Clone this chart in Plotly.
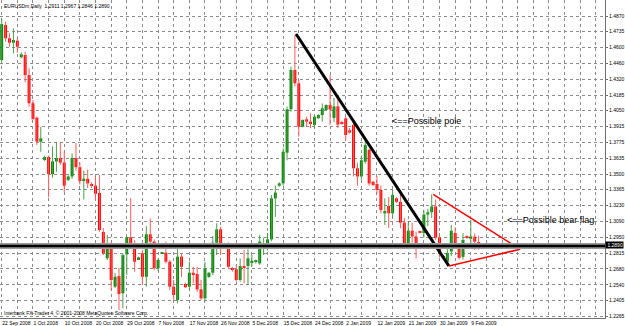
import plotly.graph_objects as go

# ---------------- data ----------------
bar_index = list(range(123))
opens = [1.4489, 1.4792, 1.4677, 1.4639, 1.4656, 1.4512, 1.4532, 1.4359, 1.4114, 1.3989,
         1.3781, 1.3622, 1.3648, 1.3500, 1.3610, 1.3640, 1.3600, 1.3450, 1.3480, 1.3640,
         1.3560, 1.3440, 1.3460, 1.3410, 1.3400, 1.3337, 1.2999, 1.2771, 1.2901, 1.2525,
         1.2617, 1.2468, 1.2805, 1.2953, 1.2878, 1.2762, 1.2814, 1.2611, 1.2979, 1.2915,
         1.2684, 1.2813, 1.2820, 1.2741, 1.2525, 1.2410, 1.2785, 1.2548, 1.2525, 1.2646,
         1.2635, 1.2502, 1.2424, 1.2610, 1.2646, 1.2906, 1.3022, 1.2895, 1.2886, 1.2684,
         1.2676, 1.2583, 1.2704, 1.2704, 1.2733, 1.2740, 1.2727, 1.2880, 1.2860, 1.2935,
         1.3290, 1.3400, 1.3420, 1.3686, 1.4062, 1.4402, 1.4287, 1.3911, 1.3975, 1.3955,
         1.3926, 1.3984, 1.4012, 1.4055, 1.4099, 1.3987, 1.4087, 1.3945, 1.3983, 1.3880,
         1.3926, 1.3551, 1.3480, 1.3608, 1.3710, 1.3434, 1.3415, 1.3363, 1.3160, 1.3224,
         1.3161, 1.3290, 1.3260, 1.3080, 1.2900, 1.3010, 1.2960, 1.3005, 1.2990, 1.3150,
         1.3170, 1.3220, 1.2950, 1.2790, 1.2741, 1.2830, 1.2990, 1.2886, 1.2783, 1.2960,
         1.2940, 1.2958, 1.2911]
highs = [1.4845, 1.4821, 1.4720, 1.4763, 1.4677, 1.4555, 1.4561, 1.4417, 1.4142, 1.3998,
         1.3911, 1.3660, 1.3660, 1.3740, 1.3780, 1.3780, 1.3700, 1.3490, 1.3680, 1.3770,
         1.3600, 1.3530, 1.3540, 1.3430, 1.3480, 1.3493, 1.3033, 1.2973, 1.2915, 1.2644,
         1.2687, 1.2814, 1.2958, 1.3293, 1.2927, 1.2785, 1.2843, 1.3050, 1.3117, 1.2935,
         1.2769, 1.2825, 1.2915, 1.2756, 1.2583, 1.2858, 1.2814, 1.2560, 1.2741, 1.2697,
         1.2697, 1.2583, 1.2741, 1.2650, 1.2964, 1.3074, 1.3045, 1.2905, 1.2910, 1.2697,
         1.2713, 1.2770, 1.2843, 1.2849, 1.2800, 1.2760, 1.2973, 1.2950, 1.2990, 1.3320,
         1.3400, 1.3430, 1.3724, 1.4085, 1.4430, 1.4705, 1.4316, 1.3975, 1.3998, 1.4027,
         1.4012, 1.4020, 1.4113, 1.4105, 1.4359, 1.4160, 1.4160, 1.3960, 1.4000, 1.3900,
         1.3955, 1.3600, 1.3660, 1.3800, 1.3720, 1.3440, 1.3480, 1.3400, 1.3290, 1.3303,
         1.3363, 1.3300, 1.3320, 1.3120, 1.3090, 1.3080, 1.3000, 1.3010, 1.3190, 1.3200,
         1.3325, 1.3280, 1.2990, 1.2800, 1.2850, 1.3060, 1.3040, 1.2900, 1.2990, 1.2970,
         1.3103, 1.2987, 1.2967]
lows = [1.4470, 1.4647, 1.4604, 1.4547, 1.4552, 1.4503, 1.4296, 1.4084, 1.3969, 1.3752,
        1.3694, 1.3615, 1.3300, 1.3470, 1.3520, 1.3580, 1.3340, 1.3440, 1.3460, 1.3530,
        1.3410, 1.3280, 1.3380, 1.3380, 1.3270, 1.3000, 1.2799, 1.2756, 1.2496, 1.2513,
        1.2323, 1.2338, 1.2626, 1.2860, 1.2655, 1.2755, 1.2540, 1.2525, 1.2901, 1.2670,
        1.2660, 1.2808, 1.2727, 1.2496, 1.2410, 1.2381, 1.2611, 1.2515, 1.2496, 1.2553,
        1.2482, 1.2410, 1.2395, 1.2600, 1.2626, 1.2799, 1.2799, 1.2875, 1.2683, 1.2655,
        1.2568, 1.2568, 1.2554, 1.2540, 1.2700, 1.2725, 1.2713, 1.2800, 1.2840, 1.2920,
        1.3130, 1.3390, 1.3400, 1.3620, 1.4040, 1.4260, 1.3824, 1.3905, 1.3911, 1.3897,
        1.3897, 1.3980, 1.3955, 1.4050, 1.3926, 1.3950, 1.3900, 1.3930, 1.3790, 1.3850,
        1.3480, 1.3400, 1.3450, 1.3590, 1.3400, 1.3400, 1.3330, 1.3160, 1.3060, 1.3033,
        1.3120, 1.3250, 1.3030, 1.2860, 1.2850, 1.2900, 1.2770, 1.2990, 1.2950, 1.3050,
        1.3120, 1.2930, 1.2780, 1.2760, 1.2704, 1.2790, 1.2860, 1.2760, 1.2760, 1.2940,
        1.2900, 1.2843, 1.2846]
closes = [1.4800, 1.4677, 1.4639, 1.4662, 1.4604, 1.4538, 1.4359, 1.4114, 1.3978, 1.3781,
          1.3810, 1.3648, 1.3500, 1.3610, 1.3640, 1.3600, 1.3400, 1.3480, 1.3640, 1.3560,
          1.3440, 1.3460, 1.3420, 1.3400, 1.3330, 1.3016, 1.2814, 1.2895, 1.2583, 1.2611,
          1.2461, 1.2799, 1.2953, 1.2878, 1.2741, 1.2779, 1.2611, 1.2979, 1.2915, 1.2684,
          1.2756, 1.2820, 1.2741, 1.2525, 1.2453, 1.2785, 1.2698, 1.2520, 1.2646, 1.2626,
          1.2502, 1.2424, 1.2684, 1.2646, 1.2906, 1.3022, 1.2886, 1.2884, 1.2698, 1.2670,
          1.2583, 1.2704, 1.2690, 1.2770, 1.2747, 1.2752, 1.2915, 1.2900, 1.2935, 1.3290,
          1.3340, 1.3420, 1.3694, 1.4062, 1.4402, 1.4287, 1.3911, 1.3969, 1.3955, 1.3941,
          1.3998, 1.4012, 1.4070, 1.4099, 1.4060, 1.4087, 1.3929, 1.3940, 1.3839, 1.3860,
          1.3551, 1.3480, 1.3620, 1.3752, 1.3419, 1.3405, 1.3363, 1.3189, 1.3180, 1.3161,
          1.3320, 1.3260, 1.3080, 1.2900, 1.3010, 1.2960, 1.2880, 1.2995, 1.3150, 1.3170,
          1.3220, 1.2950, 1.2818, 1.2770, 1.2818, 1.3010, 1.2886, 1.2774, 1.2930, 1.2950,
          1.2960, 1.2915, 1.2890]

date_tick_bars = [0, 8, 16, 24, 32, 40, 48, 56, 64, 72, 80, 88, 96, 104, 112, 120]
date_tick_text = ["22 Sep 2008", "1 Oct 2008", "10 Oct 2008", "20 Oct 2008", "29 Oct 2008",
                  "7 Nov 2008", "17 Nov 2008", "26 Nov 2008", "5 Dec 2008", "15 Dec 2008",
                  "24 Dec 2008", "2 Jan 2009", "12 Jan 2009", "21 Jan 2009", "30 Jan 2009",
                  "9 Feb 2009"]
price_tick_vals = [1.4870, 1.4735, 1.4600, 1.4460, 1.4320, 1.4185, 1.4050, 1.3915, 1.3775,
                   1.3635, 1.3500, 1.3365, 1.3230, 1.3090, 1.2950, 1.2815, 1.2680, 1.2540,
                   1.2405, 1.2265]
price_tick_text = ["%.4f" % v for v in price_tick_vals]

pole_line_x = [75.3, 114.4]
pole_line_y = [1.4714, 1.2704]
flag_upper_x = [110.4, 132.6]
flag_upper_y = [1.3325, 1.2849]
flag_lower_x = [114.4, 132.6]
flag_lower_y = [1.2704, 1.2849]
support_price = 1.2877
last_price = 1.2890
pole_note = {"x": 99.3, "y": 1.3960, "text": "<==Possible pole"}
flag_note = {"x": 128.8, "y": 1.3103, "text": "<==Possible bear flag"}
x_range = [-0.435, 154.33]
y_range = [1.22537, 1.50086]

# ---------------- build marks ----------------
MIN_BODY = 0.0009
up_x, up_base, up_h, dn_x, dn_base, dn_h = [], [], [], [], [], []
up_wx, up_wy, dn_wx, dn_wy = [], [], [], []
for i, o, h, l, c in zip(bar_index, opens, highs, lows, closes):
    lo, hi = min(o, c), max(o, c)
    if hi - lo < MIN_BODY:
        mid = (hi + lo) / 2
        lo, hi = mid - MIN_BODY / 2, mid + MIN_BODY / 2
    if c >= o:
        up_x.append(i); up_base.append(lo); up_h.append(hi - lo)
        up_wx += [i, i, None]; up_wy += [l, h, None]
    else:
        dn_x.append(i); dn_base.append(lo); dn_h.append(hi - lo)
        dn_wx += [i, i, None]; dn_wy += [l, h, None]

fig = go.Figure()
fig.add_trace(go.Scatter(x=up_wx, y=up_wy, mode="lines",
                         line=dict(color="#4aa04a", width=1), hoverinfo="skip"))
fig.add_trace(go.Scatter(x=dn_wx, y=dn_wy, mode="lines",
                         line=dict(color="#ff5a5a", width=1), hoverinfo="skip"))
fig.add_trace(go.Bar(x=up_x, y=up_h, base=up_base, width=0.75,
                     marker=dict(color="#008200", line=dict(width=0))))
fig.add_trace(go.Bar(x=dn_x, y=dn_h, base=dn_base, width=0.75,
                     marker=dict(color="#ff0000", line=dict(width=0))))
fig.add_trace(go.Scatter(x=pole_line_x, y=pole_line_y, mode="lines",
                         line=dict(color="#000000", width=3)))
fig.add_trace(go.Scatter(x=flag_upper_x, y=flag_upper_y, mode="lines",
                         line=dict(color="#ff0000", width=1.5)))
fig.add_trace(go.Scatter(x=flag_lower_x, y=flag_lower_y, mode="lines",
                         line=dict(color="#ff0000", width=1.5)))

grid = dict(showgrid=True, gridcolor="#8c8c8c", griddash="dot", gridwidth=1)
tickfont = dict(family="Liberation Sans, Arial", size=5, color="#000000")

fig.update_layout(
    width=625, height=326,
    margin=dict(l=0, r=20, t=0, b=8, autoexpand=False),
    paper_bgcolor="#ffffff", plot_bgcolor="#ffffff",
    showlegend=False, barmode="overlay",
    font=dict(family="Liberation Sans, Arial", color="#000000"),
    xaxis=dict(range=x_range, tickmode="array", tickvals=date_tick_bars,
               ticktext=date_tick_text, ticklabelposition="outside right",
               tickangle=0, automargin=False,
               tickfont=tickfont, ticks="", zeroline=False,
               showline=True, linecolor="#707070", linewidth=1, mirror=True,
               minor=dict(dtick=4, tick0=0, showgrid=True, gridcolor="#8c8c8c",
                          griddash="dot", gridwidth=1),
               **grid),
    yaxis=dict(range=y_range, side="right", tickmode="array",
               tickvals=price_tick_vals, ticktext=price_tick_text, automargin=False,
               tickfont=tickfont, ticks="outside", ticklen=2, tickcolor="#707070",
               zeroline=False, showline=True, linecolor="#707070", linewidth=1,
               mirror=True, **grid),
    shapes=[
        dict(type="line", xref="paper", x0=0, x1=1, yref="y",
             y0=support_price, y1=support_price,
             line=dict(color="#9a9a9a", width=6), layer="above"),
        dict(type="line", xref="paper", x0=0, x1=1, yref="y",
             y0=support_price, y1=support_price,
             line=dict(color="#000000", width=2.5), layer="above"),
    ],
    annotations=[
        dict(xref="paper", yref="paper", x=0.003, y=0.996, xanchor="left", yanchor="top",
             text="EURUSDm,Daily  1.2911 1.2967 1.2846 1.2890", showarrow=False,
             font=dict(size=5, color="#000000")),
        dict(xref="paper", yref="paper", x=0.004, y=0.016, xanchor="left", yanchor="middle",
             text="Interbank FX-Trader 4, © 2001-2008 MetaQuotes Software Corp.",
             showarrow=False, font=dict(size=5, color="#000000")),
        dict(x=pole_note["x"], y=pole_note["y"], xanchor="left", yanchor="middle",
             text=pole_note["text"], showarrow=False,
             font=dict(size=9, color="#000000")),
        dict(x=flag_note["x"], y=flag_note["y"], xanchor="left", yanchor="middle",
             text=flag_note["text"], showarrow=False,
             font=dict(size=9, color="#000000")),
        dict(xref="paper", x=1.0, y=last_price, xanchor="left", yanchor="middle",
             text=" %.4f" % last_price, showarrow=False, bgcolor="#000000",
             borderpad=0, font=dict(size=5, color="#ffffff")),
    ],
)

fig.write_html("out.html")
